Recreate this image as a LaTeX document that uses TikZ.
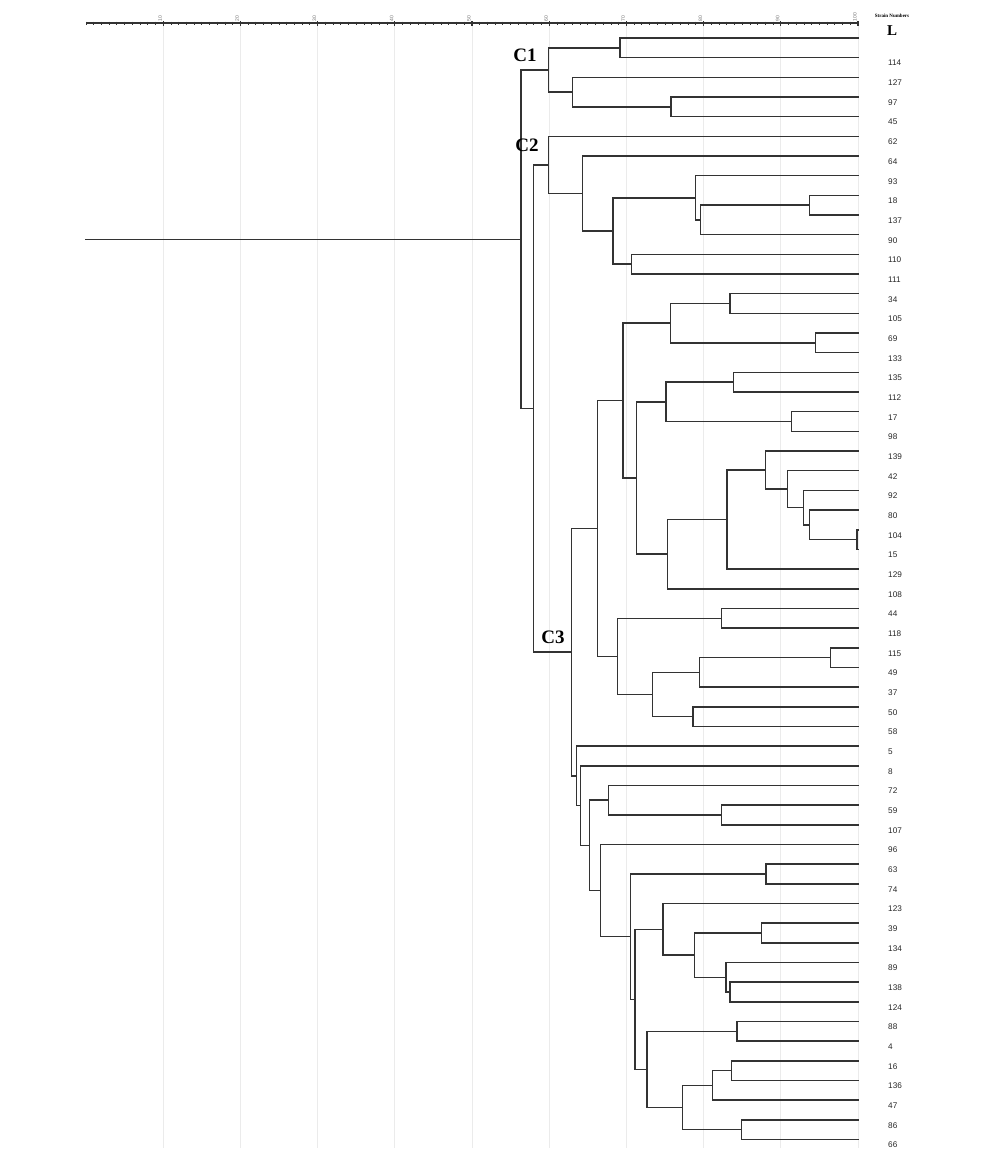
\documentclass[tikz,border=0pt]{standalone}
\usepackage{fontspec}
\setmainfont{Liberation Serif}
\newfontfamily\labfont{Liberation Sans}
\usetikzlibrary{calc}
\tikzset{
  br/.style={draw=black!80, line width=1.5pt, line cap=rect},
  grid line/.style={draw=black!8, line width=0.9pt},
  lab/.style={anchor=west, inner sep=0pt, text=black!85, font=\labfont\fontsize{8.2}{9}\selectfont},
  ticklab/.style={rotate=90, anchor=south west, inner sep=0pt, text=black!55, font=\labfont\fontsize{5}{5}\selectfont},
  clab/.style={inner sep=0pt, font=\bfseries\fontsize{19}{20}\selectfont},
}
\newcommand\mkjoin[4]{%
  \coordinate (#1m) at ($(#3)!0.5!(#4)$);
  \coordinate (#1) at (#2,0 |- #1m);
  \draw[br] (#3) -| (#1) |- (#4);
}
\begin{document}
\begin{tikzpicture}[x=1pt,y=-1pt]
\useasboundingbox (0,0) rectangle (1000,1168);
% grid lines
\foreach \v in {1,...,10} {
  \draw[grid line] ({86+77.2*\v},23) -- ({86+77.2*\v},1148);
}
% axis
\draw[black!80, line width=1.3pt] (86,23) -- (858,23);
\foreach \i in {0,...,100} {
  \draw[black!80, line width=0.8pt] ({86+7.72*\i},21.5) -- ({86+7.72*\i},24.5);
}
\foreach \v in {1,...,10} {
  \draw[black!80, line width=1.1pt] ({86+77.2*\v},21) -- ({86+77.2*\v},26);
  \node[ticklab] (tk\v) at ({86+77.2*\v-1.2},21.5) {\the\numexpr\v*10\relax};
}
\node[inner sep=0pt, font=\bfseries\fontsize{5}{5}\selectfont] (hdr) at (892,16) {Strain Numbers};
% leaves
\coordinate (lL) at (858,38);
\node[inner sep=0pt, font=\bfseries\fontsize{15}{16}\selectfont] (tL) at (892,31) {L};
\foreach \lab [count=\i from 2] in {114,127,97,45,62,64,93,18,137,90,110,111,34,105,69,133,135,112,17,98,139,42,92,80,104,15,129,108,44,118,115,49,37,50,58,5,8,72,59,107,96,63,74,123,39,134,89,138,124,88,4,16,136,47,86,66} {
  \coordinate (l\lab) at (858,{38+(\i-1)*19.67});
  \node[lab] (t\lab) at (888,{43.5+(\i-1)*19.67}) {\lab};
}
% cluster C1
\mkjoin{n1}{620}{lL}{l114}
\mkjoin{n2}{671}{l97}{l45}
\mkjoin{n3}{572.7}{l127}{n2}
\mkjoin{c1}{548.7}{n1}{n3}
% cluster C2
\mkjoin{n4}{809.3}{l18}{l137}
\mkjoin{n5}{700.7}{n4}{l90}
\mkjoin{n6}{695.3}{l93}{n5}
\mkjoin{n7}{631.7}{l110}{l111}
\mkjoin{n8}{613}{n6}{n7}
\mkjoin{n9}{582.3}{l64}{n8}
\mkjoin{c2}{548.7}{l62}{n9}
% cluster C3
\mkjoin{n10}{730}{l34}{l105}
\mkjoin{n11}{815.7}{l69}{l133}
\mkjoin{n12}{670.3}{n10}{n11}
\mkjoin{n13}{733.7}{l135}{l112}
\mkjoin{n14}{791.7}{l17}{l98}
\mkjoin{n15}{666}{n13}{n14}
\mkjoin{n16}{857.2}{l104}{l15}
\mkjoin{n17}{809.3}{l80}{n16}
\mkjoin{n18}{803.3}{l92}{n17}
\mkjoin{n19}{787.7}{l42}{n18}
\mkjoin{n20}{765.7}{l139}{n19}
\mkjoin{n21}{727}{n20}{l129}
\mkjoin{n22}{667.3}{n21}{l108}
\mkjoin{n23}{636.7}{n15}{n22}
\mkjoin{n24}{623}{n12}{n23}
\mkjoin{n25}{721.3}{l44}{l118}
\mkjoin{n26}{830.3}{l115}{l49}
\mkjoin{n27}{699.7}{n26}{l37}
\mkjoin{n28}{693}{l50}{l58}
\mkjoin{n29}{652.7}{n27}{n28}
\mkjoin{n30}{617.7}{n25}{n29}
\mkjoin{n31}{597.7}{n24}{n30}
\mkjoin{n32}{721.3}{l59}{l107}
\mkjoin{n33}{608.3}{l72}{n32}
\mkjoin{n34}{766}{l63}{l74}
\mkjoin{n35}{761.3}{l39}{l134}
\mkjoin{n36}{730}{l138}{l124}
\mkjoin{n37}{726}{l89}{n36}
\mkjoin{n38}{694.3}{n35}{n37}
\mkjoin{n39}{663}{l123}{n38}
\mkjoin{n40}{737}{l88}{l4}
\mkjoin{n41}{731.7}{l16}{l136}
\mkjoin{n42}{712.7}{n41}{l47}
\mkjoin{n43}{741.7}{l86}{l66}
\mkjoin{n44}{682.7}{n42}{n43}
\mkjoin{n45}{647}{n40}{n44}
\mkjoin{n46}{635}{n39}{n45}
\mkjoin{n47}{630.7}{n34}{n46}
\mkjoin{n48}{600.3}{l96}{n47}
\mkjoin{n49}{589.3}{n33}{n48}
\mkjoin{n50}{580.7}{l8}{n49}
\mkjoin{n51}{576.3}{l5}{n50}
\mkjoin{c3}{571.7}{n31}{n51}
% top joins
\mkjoin{c23}{533.3}{c2}{c3}
\mkjoin{root}{521}{c1}{c23}
\coordinate (origin) at (86,0 |- root);
\draw[br] (origin) -- (root);
% cluster labels
\node[clab] (C1) at (525,55) {C1};
\node[clab] (C2) at (527,145) {C2};
\node[clab] (C3) at (553,637) {C3};
\end{tikzpicture}
\end{document}
